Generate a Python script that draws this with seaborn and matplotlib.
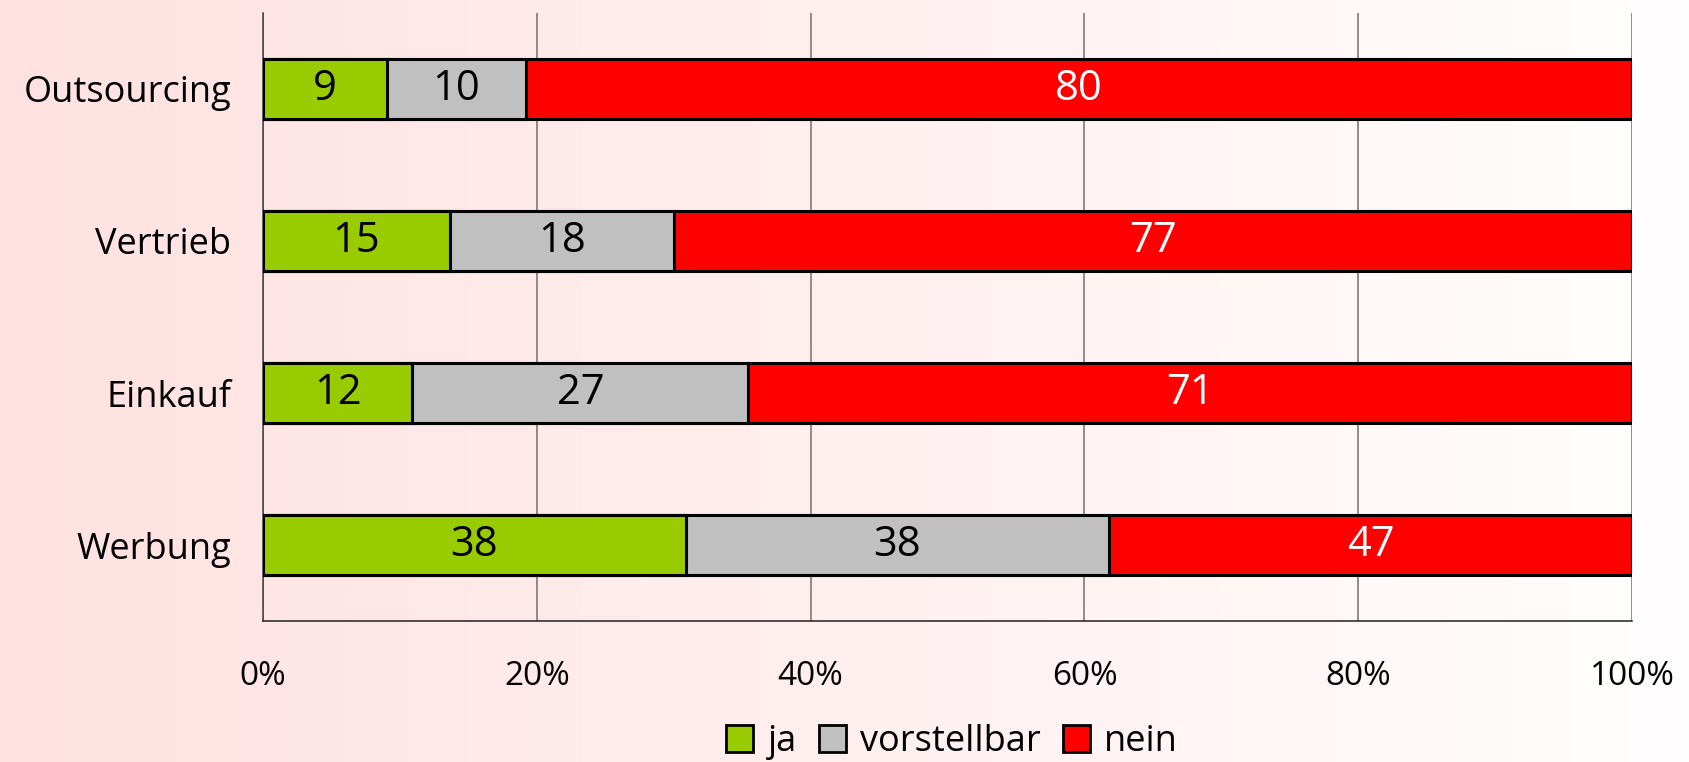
import numpy as np
import pandas as pd
import seaborn as sns
import matplotlib.pyplot as plt
from matplotlib.patches import Patch
from matplotlib.colors import LinearSegmentedColormap

categories = ["Outsourcing", "Vertrieb", "Einkauf", "Werbung"]
ja = [9, 15, 12, 38]
vorstellbar = [10, 18, 27, 38]
nein = [80, 77, 71, 47]

series = ["ja", "vorstellbar", "nein"]
colors = {"ja": "#99CC00", "vorstellbar": "#C0C0C0", "nein": "#FF0000"}
text_colors = {"ja": "black", "vorstellbar": "black", "nein": "white"}

df = pd.DataFrame({"Kategorie": categories, "ja": ja,
                   "vorstellbar": vorstellbar, "nein": nein})
total = df[series].sum(axis=1)
for s in series:
    df[s + "_pct"] = df[s] / total * 100
df["cum_ja"] = df["ja_pct"]
df["cum_vorstellbar"] = df["ja_pct"] + df["vorstellbar_pct"]
df["cum_nein"] = df["cum_vorstellbar"] + df["nein_pct"]

sns.set_style("white")
plt.rcParams["font.family"] = ["Open Sans", "DejaVu Sans"]
plt.rcParams["text.color"] = "black"
plt.rcParams["xtick.color"] = "black"
plt.rcParams["ytick.color"] = "black"

fig = plt.figure(figsize=(16.89, 7.62), dpi=100)

# background gradient
bg = fig.add_axes([0, 0, 1, 1], zorder=-10)
cmap = LinearSegmentedColormap.from_list("bg", ["#FFE1E1", "#FFFEFE"])
bg.imshow(np.linspace(0, 1, 256).reshape(1, -1), aspect="auto", cmap=cmap,
          extent=[0, 1, 0, 1])
bg.axis("off")

ax = fig.add_axes([0.1557, 0.185, 0.9663 - 0.1557, 0.983 - 0.185])
ax.set_facecolor("none")

for s in reversed(series):
    sns.barplot(data=df, y="Kategorie", x="cum_" + s, orient="y",
                color=colors[s], saturation=1, width=0.4,
                edgecolor="black", linewidth=2.2, ax=ax, zorder=3)

# value labels
for i, row in df.iterrows():
    start = 0
    for s in series:
        w = row[s + "_pct"]
        ax.text(start + w / 2, i, str(row[s]), ha="center", va="center",
                fontsize=30, color=text_colors[s], zorder=5)
        start += w

ax.set_xlim(0, 100)
ax.set_ylim(3.5, -0.5)
ax.set_xticks([0, 20, 40, 60, 80, 100])
ax.set_xticklabels([f"{v}%" for v in [0, 20, 40, 60, 80, 100]], fontsize=24)
ax.set_yticks(range(len(categories)))
ax.set_yticklabels(categories, fontsize=26)
ax.set_yticks(np.arange(-0.5, 4, 1), minor=True)
ax.tick_params(axis="y", which="major", length=0, pad=23)
ax.tick_params(axis="y", which="minor", length=8, width=1, color="#404040",
               direction="out")
ax.tick_params(axis="x", which="major", length=8, width=1, color="#404040",
               direction="out", pad=20)
ax.set_xlabel("")
ax.set_ylabel("")

ax.xaxis.grid(True, color="#707070", linewidth=1.1, zorder=0)
ax.set_axisbelow(True)
for side in ["top", "right"]:
    ax.spines[side].set_visible(False)
ax.spines["left"].set_color("#404040")
ax.spines["bottom"].set_color("#202020")
ax.spines["left"].set_linewidth(1.1)
ax.spines["bottom"].set_linewidth(1.1)

handles = [Patch(facecolor=colors[s], edgecolor="black", linewidth=2) for s in series]
fig.legend(handles, series, loc="lower center", bbox_to_anchor=(0.5637, -0.04),
           ncol=3, frameon=False, fontsize=26, handlelength=0.75,
           handleheight=0.75, handletextpad=0.4, columnspacing=0.6)

fig.savefig("out.png", dpi=100)
